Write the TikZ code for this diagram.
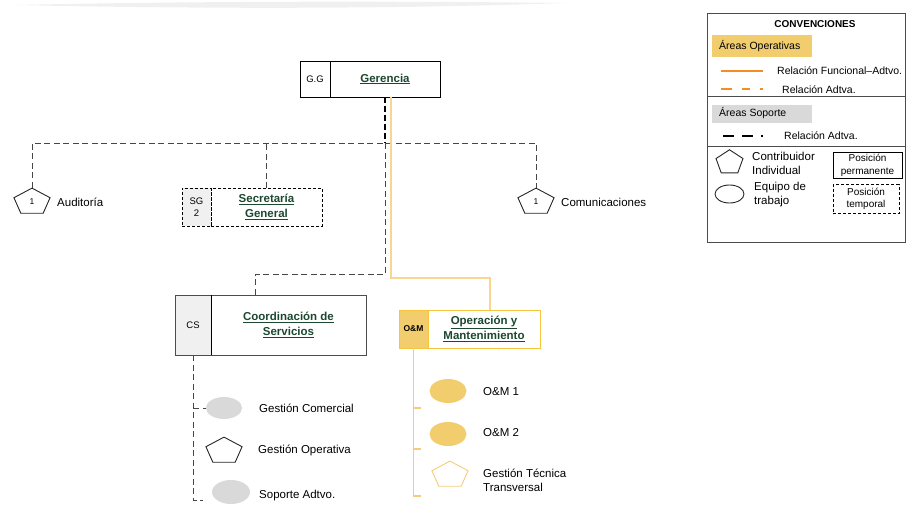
\documentclass[tikz,border=0pt]{standalone}
\usepackage{fontspec}
\setmainfont{Liberation Sans}
\usetikzlibrary{shapes.geometric,positioning}

\definecolor{titverde}{RGB}{28,72,48}
\definecolor{ocre}{RGB}{242,205,110}
\definecolor{ocreborde}{RGB}{247,196,60}
\definecolor{ocresuave}{RGB}{245,205,120}
\definecolor{naranja}{RGB}{250,212,145}
\definecolor{naranjaleg}{RGB}{245,140,40}
\definecolor{grisclaro}{RGB}{240,240,240}
\definecolor{gris}{RGB}{217,217,217}
\definecolor{grislinea}{RGB}{70,70,70}

% pentagono achatado: nombre, posicion, texto
\newcommand{\pentnode}[5][yscale=.73]{%
  \begin{scope}[shift={#3},#1]
    \node[pent,transform shape,#5] (#2) {};
  \end{scope}
  \node[font=\fontsize{8.5}{9}\selectfont,inner sep=0] (#2-t) at (#2) {#4};}

\begin{document}
\begin{tikzpicture}[x=1pt,y=-1pt,
  lbl/.style={anchor=west,inner sep=0,font=\fontsize{11.5}{14}\selectfont,align=left},
  leg/.style={anchor=west,inner sep=0,font=\fontsize{10.5}{12}\selectfont,align=left},
  tit/.style={font=\bfseries\fontsize{11.5}{15}\selectfont,text=titverde,align=center},
  cel/.style={draw,inner sep=0,outer sep=0,font=\fontsize{9.5}{11.5}\selectfont,align=center},
  pent/.style={regular polygon,regular polygon sides=5,minimum size=38,inner sep=0,draw=black!85,line width=.9pt},
  elli/.style={ellipse,minimum width=36,minimum height=22,inner sep=0},
  admgris/.style={grislinea,line width=.9pt,dash pattern=on 6pt off 3.5pt},
  admnegro/.style={black,line width=1.5pt,dash pattern=on 6pt off 3pt},
  funcional/.style={naranja,line width=1.2pt}]

\useasboundingbox (0,0) rectangle (906,519);
% barra gris de arriba
\fill[gray!12] (15,5) .. controls (200,1) and (400,1) .. (565,3) .. controls (400,9) and (200,9) .. (15,5);

% Gerencia
\node[cel,line width=.9pt,minimum width=30,minimum height=36] (gg) at (315,79) {G.G};
\node[cel,line width=.9pt,minimum width=110,minimum height=36,right=0pt of gg,tit] (ger) {\underline{Gerencia}};

% Secretaria General
\node[cel,densely dashed,fill=grisclaro,minimum width=29,minimum height=38] (sg) at (196.5,207) {SG\\2};
\node[cel,densely dashed,minimum width=111,minimum height=38,right=0pt of sg,tit] (sec) {\underline{Secretaría}\\\underline{General}};

% Coordinacion de Servicios
\node[cel,draw=black!70,fill=grisclaro,minimum width=36,minimum height=60] (cs) at (193,325) {CS};
\node[cel,draw=black!70,minimum width=155,minimum height=60,right=0pt of cs,tit] (coord) {\underline{Coordinación de}\\\underline{Servicios}};
\draw[thick] (cs.north east) -- (cs.south east);

% Operacion y Mantenimiento
\node[cel,draw=ocreborde,fill=ocre,minimum width=29,minimum height=38,font=\bfseries\fontsize{8.5}{10}\selectfont] (om) at (413.5,329) {O\&M};
\node[cel,draw=ocreborde,minimum width=112,minimum height=38,right=0pt of om,tit] (op) {\underline{Operación y}\\\underline{Mantenimiento}};

% contribuidores individuales
\pentnode{aud}{(32,202)}{1}{}
\node[lbl] (aud-l) at (57,202) {Auditoría};
\pentnode{com}{(536,202)}{1}{}
\node[lbl] (com-l) at (561,202) {Comunicaciones};

% relaciones administrativas
\coordinate (bus) at (385,143);
\coordinate (codo1) at (385,274);
\draw[admgris] (aud.corner 1) -- (aud.corner 1 |- bus) -- (com.corner 1 |- bus) -- (com.corner 1);
\draw[admgris] (sec.north) -- (sec.north |- bus);
\draw[admgris] (bus) -- (codo1) -| ([xshift=44pt]coord.north west);
\draw[admnegro] (ger.south) -- (bus);

% relacion funcional
\coordinate (codo2) at (391,278);
\draw[funcional] ([xshift=6pt]ger.south) -- (codo2) -| ([xshift=6pt]op.north);

% equipos de Coordinacion de Servicios
\node[elli,fill=gris] (gcom) at (224,408) {};
\node[lbl] (gcom-l) at (259,408) {Gestión Comercial};
\pentnode{gop}{(224,451)}{}{}
\node[lbl] (gop-l) at (258,450) {Gestión Operativa};
\node[elli,fill=gris,minimum width=38,minimum height=24] (sop) at (231,492) {};
\node[lbl] (sop-l) at (259,496) {Soporte Adtvo.};
\coordinate (cs-fin) at (193,500);
\draw[admgris] (cs.south) -- (cs-fin) -- ++(10,0);
\draw[admgris] (cs.south |- gcom) -- (gcom.west);

% equipos de O&M
\node[elli,fill=ocre,minimum width=37,minimum height=24] (om1) at (448,391) {};
\node[lbl] (om1-l) at (483,392) {O\&M 1};
\node[elli,fill=ocre,minimum width=37,minimum height=24] (om2) at (448,434) {};
\node[lbl] (om2-l) at (483,433) {O\&M 2};
\pentnode{gtt}{(450,475)}{}{draw=ocresuave}
\node[lbl] (gtt-l) at (483,480) {Gestión Técnica\\Transversal};
\coordinate (om-fin) at (413.5,496);
\draw[funcional,ocresuave] (om.south) -- (om-fin) -- ++(7,0);
\foreach \y in {408,449}
  \draw[funcional,ocresuave] (413.5,\y) -- ++(7,0);

% convenciones
\draw[black!70] (707,13) rectangle (905.5,242);
\draw[black!70] (707,96) -- (905.5,96);
\draw[black!70] (707,146) -- (905.5,146);
\node[font=\bfseries\fontsize{10}{11}\selectfont] (conv) at (815,24) {CONVENCIONES};
\node[fill=ocre,minimum width=100,minimum height=22,inner sep=0] (c-op) at (762,46) {};
\node[leg] (c-op-l) at (719,46) {Áreas Operativas};
\coordinate (lf1) at (721,71);
\draw[naranjaleg,line width=2.2pt] (lf1) -- ++(42,0);
\node[leg] (lf-l) at (777,71) {Relación Funcional–Adtvo.};
\coordinate (la1) at (721,89);
\draw[naranjaleg,line width=2.2pt,dash pattern=on 11pt off 10pt on 8pt off 10pt] (la1) -- ++(42,0);
\node[leg] (la-l) at (782,90) {Relación Adtva.};
\node[fill=gris,minimum width=100,minimum height=18,inner sep=0] (c-so) at (762,114) {};
\node[leg] (c-so-l) at (719,113) {Áreas Soporte};
\coordinate (ls1) at (723,136);
\draw[black,line width=2.4pt,dash pattern=on 11pt off 8pt] (ls1) -- ++(40,0);
\node[leg] (ls-l) at (784,136) {Relación Adtva.};
\pentnode[scale=.745,yscale=.9]{c-pen}{(729.5,162.5)}{}{}
\node[lbl] (c-pen-l) at (752,163) {Contribuidor\\Individual};
\node[elli,draw=black!85,line width=.9pt,minimum width=29,minimum height=18] (c-eq) at (729.5,194) {};
\node[lbl] (c-eq-l) at (754,195) {Equipo de\\trabajo};
\node[draw,line width=.9pt,minimum width=69,minimum height=26,inner sep=0,align=center,font=\fontsize{10}{13}\selectfont] (c-perm) at (867.5,165) {Posición\\permanente};
\node[draw,densely dashed,minimum width=66,minimum height=29,inner sep=0,align=center,font=\fontsize{10}{12.5}\selectfont] (c-temp) at (866,199) {Posición\\temporal};
\end{tikzpicture}
\end{document}
